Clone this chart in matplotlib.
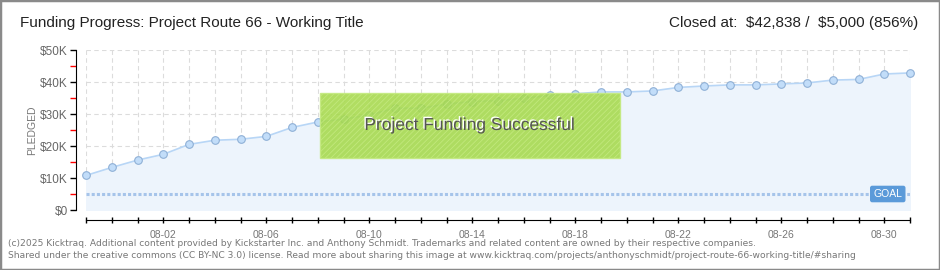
import numpy as np
import pandas as pd
import matplotlib
matplotlib.use('Agg')
import matplotlib.pyplot as plt
import matplotlib.patheffects as pe
from matplotlib.patches import Rectangle
from matplotlib.ticker import FuncFormatter, MultipleLocator

plt.rcParams['font.family'] = ['Liberation Sans', 'DejaVu Sans']
plt.rcParams['hatch.color'] = '#98cc40'
plt.rcParams['hatch.linewidth'] = 0.6

# daily pledged totals (USD)
dates = pd.date_range('2025-07-30', '2025-08-31', freq='D')
pledged = [10800, 13300, 15600, 17400, 20500, 21800, 22100, 23000, 25800, 27500,
           28400, 29700, 31800, 31800, 33100, 33900, 34200, 34900, 35800, 36300,
           36900, 36900, 37200, 38300, 38750, 39100, 39100, 39400, 39700, 40600,
           40800, 42500, 42838]
goal = 5000
label_dates = ['08-02', '08-06', '08-10', '08-14', '08-18', '08-22', '08-26', '08-30']

day = np.arange(len(dates))

fig = plt.figure(figsize=(9.4, 2.7), dpi=100)
fig.patches.append(Rectangle((0, 0), 1, 1, transform=fig.transFigure, fill=False,
                             ec='#8a8a8a', lw=2.5, zorder=10))
ax = fig.add_axes([86/940, 1-210/270, 824/940, 160/270])

# area + line + markers
ax.fill_between(day, pledged, 0, color='#edf4fc', zorder=1)
ax.plot(day, pledged, color='#b8d6f6', lw=1.2, zorder=3)
ax.plot(day, pledged, ls='', marker='o', ms=5.5, mfc='#c2ddf9', mec='#8fb0d6', mew=0.8,
        zorder=4, clip_on=False)

# goal line
ax.plot([day[0], day[-1]], [goal, goal], color='#a6c4ea', lw=2.2,
        linestyle=(0, (1, 0.7)), zorder=2)
ax.text(0.973, goal, 'GOAL', transform=ax.get_yaxis_transform(), ha='center', va='center',
        color='white', fontsize=7.5, zorder=6,
        bbox=dict(boxstyle='round,pad=0.25,rounding_size=0.15', fc='#5b9ad9', ec='#5b9ad9'))

ax.set_xlim(day[0], day[-1])
ax.set_ylim(0, 50000)
ax.grid(True, which='major', ls=(0, (4, 3)), color='#dcdcdc', lw=0.8)
ax.set_axisbelow(True)
ax.set_xticks(day)
ax.set_xticklabels([d.strftime('%m-%d') if d.strftime('%m-%d') in label_dates else ''
                    for d in dates])
ax.yaxis.set_major_locator(MultipleLocator(10000))
ax.yaxis.set_minor_locator(MultipleLocator(5000))
ax.yaxis.set_major_formatter(FuncFormatter(lambda v, p: r'\$0' if v == 0 else r'\${:d}K'.format(int(v/1000))))
ax.tick_params(axis='y', which='major', length=4, width=1, color='black',
               labelsize=8.5, labelcolor='#666666', pad=2)
ax.tick_params(axis='y', which='minor', length=4, width=1, color='red')
ax.tick_params(axis='x', length=4, width=1, color='black', direction='inout',
               labelsize=7.5, labelcolor='#777777', pad=5)
for s in ['top', 'right']:
    ax.spines[s].set_visible(False)
ax.spines['left'].set_position(('outward', 7.2))
ax.spines['bottom'].set_position(('outward', 7.2))
ax.set_ylabel('PLEDGED', fontsize=7.5, color='#777777', labelpad=2)

# funding successful banner
ax.add_patch(Rectangle((0.284, 0.325), 0.364, 0.406, transform=ax.transAxes,
                       fc='#a6d94c', ec='#c4ea80', lw=1, hatch='//////', alpha=0.88,
                       zorder=5))
ax.text(0.466, 0.528, 'Project Funding Successful', transform=ax.transAxes,
        ha='center', va='center', fontsize=12.5, color='#555555', zorder=6,
        path_effects=[pe.withSimplePatchShadow(offset=(-1, 1), shadow_rgbFace='white', alpha=1)])

# header
fig.text(20/940, 1-23/270, 'Funding Progress: Project Route 66 - Working Title',
         fontsize=11, color='#222222', va='center', ha='left')
fig.text(918/940, 1-23/270, r'Closed at:  \$42,838 /  \$5,000 (856%)',
         fontsize=11, color='#222222', va='center', ha='right')

# footer
fig.text(8/940, 1-243/270, '(c)2025 Kicktraq. Additional content provided by Kickstarter Inc. and Anthony Schmidt. '
         'Trademarks and related content are owned by their respective companies.',
         fontsize=6.6, color='#777777', va='center', family='DejaVu Sans')
fig.text(8/940, 1-256/270, 'Shared under the creative commons (CC BY-NC 3.0) license. Read more about sharing this '
         'image at www.kicktraq.com/projects/anthonyschmidt/project-route-66-working-title/#sharing',
         fontsize=6.6, color='#777777', va='center', family='DejaVu Sans')

fig.savefig('out.png', dpi=100)
